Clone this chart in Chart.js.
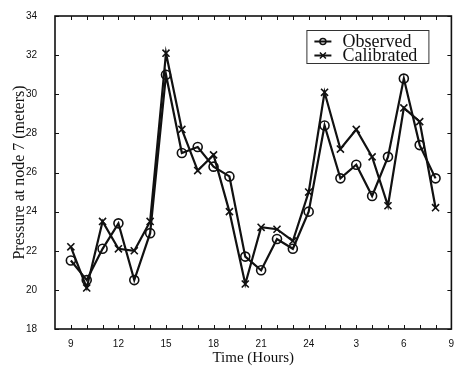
<!DOCTYPE html>
<html>
<head>
<meta charset="utf-8">
<script src="https://cdn.jsdelivr.net/npm/chart.js@4/dist/chart.umd.min.js"></script>
<style>
  html, body { margin: 0; padding: 0; background: #fff; }
  #wrap { width: 458px; height: 369px; }
</style>
</head>
<body>
<div id="wrap"><canvas id="chart" width="458" height="369"></canvas></div>
<script>
// hours run from 9 in the morning to 8 the next morning (24 = midnight)
const hours = [9, 10, 11, 12, 13, 14, 15, 16, 17, 18, 19, 20, 21, 22, 23, 24, 25, 26, 27, 28, 29, 30, 31, 32];
const observed = [21.5, 20.5, 22.1, 23.4, 20.5, 22.9, 31.0, 27.0, 27.3, 26.3, 25.8, 21.7, 21.0, 22.6, 22.1, 24.0, 28.4, 25.7, 26.4, 24.8, 26.8, 30.8, 27.4, 25.7];
const calibrated = [22.2, 20.1, 23.5, 22.1, 22.0, 23.5, 32.1, 28.2, 26.1, 26.9, 24.0, 20.3, 23.2, 23.1, 22.5, 25.0, 30.1, 27.2, 28.2, 26.8, 24.3, 29.3, 28.6, 24.2];

const xTicks = [9, 12, 15, 18, 21, 24, 27, 30, 33];
const yTicks = [18, 20, 22, 24, 26, 28, 30, 32, 34];

const ink = '#111';

function toPoints(values) {
    return hours.map((h, i) => ({ x: h, y: values[i] }));
}

// clock label: 27 -> 3, 33 -> 9, but midnight stays 24
function clockLabel(v) {
    if (v <= 24) return String(v);
    return String(v - 24);
}

function drawCircle(ctx, x, y, r) {
    ctx.beginPath();
    ctx.arc(x, y, r, 0, Math.PI * 2);
    ctx.stroke();
}

function drawCross(ctx, x, y, r) {
    ctx.beginPath();
    ctx.moveTo(x - r, y - r);
    ctx.lineTo(x + r, y + r);
    ctx.moveTo(x - r, y + r);
    ctx.lineTo(x + r, y - r);
    ctx.stroke();
}

// box round the plot with small inward ticks on all four sides
const framePlugin = {
    id: 'frame',
    afterDatasetsDraw(chart) {
        const { ctx, chartArea: a, scales } = chart;
        const len = 4;
        ctx.save();
        ctx.strokeStyle = ink;
        ctx.lineWidth = 1;
        ctx.beginPath();
        for (let h = 9; h < 33; h++) {
            const px = Math.round(scales.x.getPixelForValue(h)) + 0.5;
            ctx.moveTo(px, a.bottom);
            ctx.lineTo(px, a.bottom - len);
            ctx.moveTo(px, a.top);
            ctx.lineTo(px, a.top + len);
        }
        yTicks.forEach(v => {
            const py = Math.round(scales.y.getPixelForValue(v)) + 0.5;
            ctx.moveTo(a.left, py);
            ctx.lineTo(a.left + len, py);
            ctx.moveTo(a.right, py);
            ctx.lineTo(a.right - len, py);
        });
        ctx.stroke();
        ctx.lineWidth = 1.6;
        ctx.strokeRect(a.left, a.top, a.right - a.left, a.bottom - a.top);
        ctx.restore();
    }
};

// legend box in the upper right, line + marker like the plot
const legendPlugin = {
    id: 'boxLegend',
    afterDraw(chart) {
        const { ctx, chartArea: a } = chart;
        const x0 = a.right - 145, y0 = a.top + 14, w = 122, h = 33;
        ctx.save();
        ctx.fillStyle = '#fff';
        ctx.fillRect(x0, y0, w, h);
        ctx.strokeStyle = '#333';
        ctx.lineWidth = 1;
        ctx.strokeRect(x0 + 0.5, y0 + 0.5, w, h);

        const rows = [
            { label: 'Observed', y: y0 + 11.5, mark: drawCircle },
            { label: 'Calibrated', y: y0 + 25.5, mark: drawCross }
        ];
        ctx.font = '18px "Liberation Serif"';
        ctx.textBaseline = 'middle';
        ctx.fillStyle = ink;
        rows.forEach(row => {
            ctx.strokeStyle = ink;
            ctx.lineWidth = 2;
            ctx.beginPath();
            ctx.moveTo(x0 + 8, row.y);
            ctx.lineTo(x0 + 25, row.y);
            ctx.stroke();
            ctx.lineWidth = 1.5;
            row.mark(ctx, x0 + 16.5, row.y, 3);
            ctx.fillText(row.label, x0 + 36, row.y + 1);
        });
        ctx.restore();
    }
};

const ctx = document.getElementById('chart');

new Chart(ctx, {
    type: 'line',
    data: {
        datasets: [
            {
                label: 'Observed',
                data: toPoints(observed),
                borderColor: ink,
                borderWidth: 2.2,
                pointStyle: 'circle',
                pointRadius: 4.5,
                pointBorderWidth: 1.6,
                pointBorderColor: ink,
                pointBackgroundColor: 'rgba(0,0,0,0)',
                tension: 0
            },
            {
                label: 'Calibrated',
                data: toPoints(calibrated),
                borderColor: ink,
                borderWidth: 2.2,
                pointStyle: 'crossRot',
                pointRadius: 5,
                pointBorderWidth: 1.6,
                pointBorderColor: ink,
                tension: 0
            }
        ]
    },
    options: {
        responsive: false,
        animation: false,
        devicePixelRatio: 1,
        layout: { padding: { top: 15, right: 6, left: 0, bottom: 0 } },
        plugins: {
            legend: { display: false },
            tooltip: { enabled: false }
        },
        scales: {
            x: {
                type: 'linear',
                min: 8,
                max: 33,
                afterBuildTicks: scale => {
                    scale.ticks = xTicks.map(v => ({ value: v }));
                },
                afterFit: scale => { scale.height = 40; },
                grid: { display: false },
                border: { display: false },
                ticks: {
                    autoSkip: false,
                    maxRotation: 0,
                    padding: 1,
                    color: ink,
                    font: { family: 'Liberation Sans', size: 10 },
                    callback: v => clockLabel(v)
                },
                title: {
                    display: true,
                    text: 'Time (Hours)',
                    color: ink,
                    font: { family: 'Liberation Serif', size: 15 },
                    padding: { top: 0, bottom: 2 }
                }
            },
            y: {
                min: 18,
                max: 34,
                afterBuildTicks: scale => {
                    scale.ticks = yTicks.map(v => ({ value: v }));
                },
                afterFit: scale => { scale.width = 55; },
                grid: { display: false },
                border: { display: false },
                ticks: {
                    padding: 10,
                    color: ink,
                    font: { family: 'Liberation Sans', size: 10 }
                },
                title: {
                    display: true,
                    text: 'Pressure at node 7 (meters)',
                    color: ink,
                    font: { family: 'Liberation Serif', size: 16 },
                    padding: { top: 10, bottom: 0 }
                }
            }
        }
    },
    plugins: [framePlugin, legendPlugin]
});
</script>
</body>
</html>
